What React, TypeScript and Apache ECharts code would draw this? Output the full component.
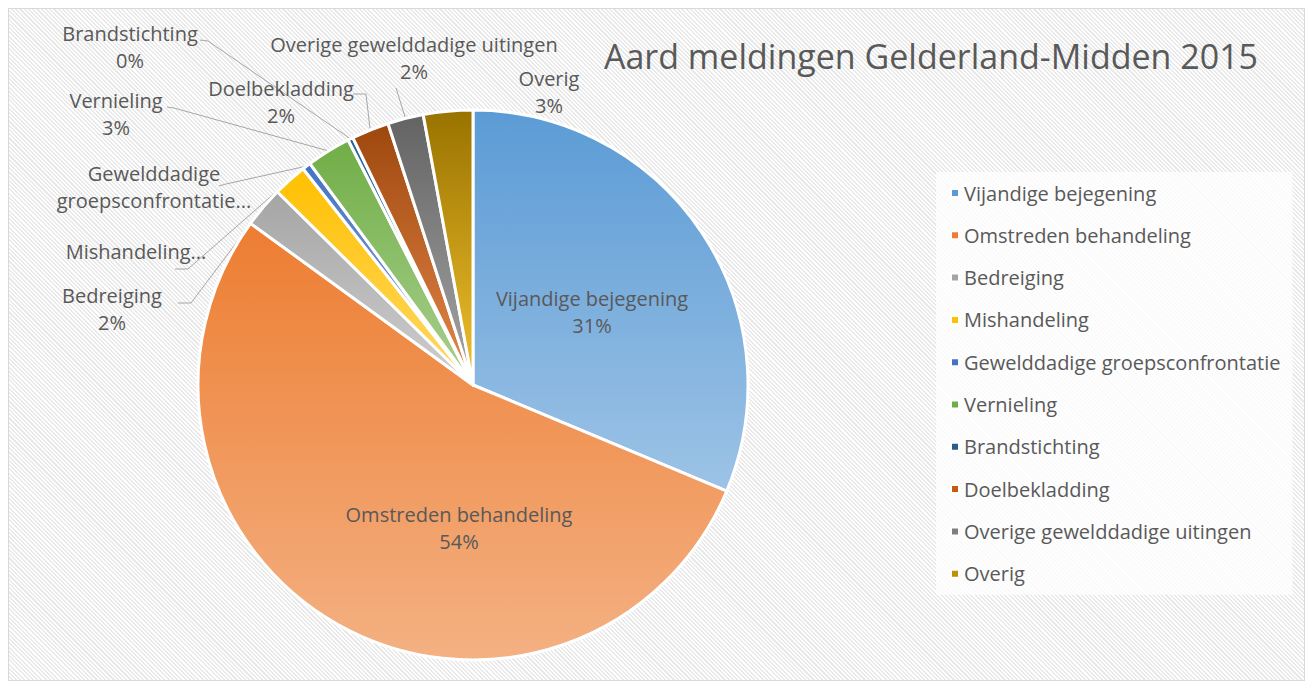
import React, { useEffect, useRef } from "react";
import * as echarts from "echarts";

const categories = [
  "Vijandige bejegening",
  "Omstreden behandeling",
  "Bedreiging",
  "Mishandeling",
  "Gewelddadige groepsconfrontatie",
  "Vernieling",
  "Brandstichting",
  "Doelbekladding",
  "Overige gewelddadige uitingen",
  "Overig",
];
const shares = [31.3, 53.7, 2.4, 2.0, 0.5, 2.6, 0.3, 2.2, 2.1, 2.9];
const titleText = "Aard meldingen Gelderland-Midden 2015";

const topColors = ["#5b9bd5", "#ed7d31", "#a5a5a5", "#ffc000", "#4472c4", "#70ad47", "#255e91", "#9e480e", "#636363", "#997300"];
const bottomColors = ["#9dc3e6", "#f4b183", "#cfcfcf", "#ffd966", "#8faadc", "#a9d18e", "#7fa6d4", "#e5874a", "#a6a6a6", "#f2c12e"];
const legendColors = ["#5b9bd5", "#ed7d31", "#a5a5a5", "#ffc000", "#4472c4", "#70ad47", "#255e91", "#c55a11", "#7f7f7f", "#bf9000"];

// label placement (chart pixel coords), style only
const spots: Record<number, { x: number; y: number; line?: number[][] }> = {
  0: { x: 583, y: 303 },
  1: { x: 450, y: 519 },
  2: { x: 103, y: 300, line: [[182, 294], [169, 294]] },
  3: { x: 127, y: 242, line: [[179, 260], [166, 260]] },
  4: { x: 145, y: 178, line: [[217, 175], [210, 177]] },
  5: { x: 107, y: 105, line: [[165, 99], [158, 98]] },
  6: { x: 121, y: 38, line: [[199, 32], [191, 31]] },
  7: { x: 272, y: 93, line: [[357, 85], [344, 85]] },
  8: { x: 405, y: 49, line: [[388, 82], [387, 79]] },
  9: { x: 540, y: 83 },
};

const FONT = "'Open Sans', 'Noto Sans', sans-serif";
const TEXT = "#595959";

export default function App() {
  const ref = useRef<HTMLDivElement>(null);
  useEffect(() => {
    if (!ref.current) return;
    const chart = echarts.init(ref.current, undefined, { renderer: "svg" });
    const data = categories.map((name, i) => ({
      name,
      value: shares[i],
      itemStyle: {
        color: new echarts.graphic.LinearGradient(0, 0, 0, 1, [
          { offset: 0, color: topColors[i] },
          { offset: 1, color: bottomColors[i] },
        ]),
      },
      label: { position: i < 2 ? "inside" : "outside" },
      labelLine: { show: i >= 2 && i !== 9 },
    }));
    chart.setOption({
      animation: false,
      backgroundColor: "transparent",
      title: {
        text: titleText,
        left: 917,
        top: 42,
        textAlign: "center",
        textVerticalAlign: "middle",
        textStyle: { fontFamily: FONT, fontSize: 34, fontWeight: "normal", color: TEXT },
      },
      legend: {
        orient: "vertical",
        left: 927,
        top: 163,
        data: categories.map((name, i) => ({ name, itemStyle: { color: legendColors[i] } })),
        icon: "rect",
        itemWidth: 8,
        itemHeight: 8,
        itemGap: 22.3,
        padding: [11, 12, 11, 14],
        backgroundColor: "rgba(255,255,255,0.75)",
        textStyle: { fontFamily: FONT, fontSize: 20, color: TEXT, lineHeight: 20 },
      },
      series: [
        {
          type: "pie",
          center: [464, 376],
          radius: [0, 275],
          startAngle: 90,
          clockwise: true,
          avoidLabelOverlap: false,
          data,
          itemStyle: { borderColor: "#ffffff", borderWidth: 3 },
          label: {
            fontFamily: FONT,
            fontSize: 20,
            lineHeight: 27,
            color: TEXT,
            align: "center",
            formatter: (p: any) => {
              const i = p.dataIndex;
              if (i === 3) return "Mishandeling...";
              if (i === 4) return "Gewelddadige\ngroepsconfrontatie...";
              return p.name + "\n" + Math.round(p.percent) + "%";
            },
          },
          labelLine: { lineStyle: { color: "#a6a6a6", width: 1 }, length: 10, length2: 10 },
          labelLayout: (params: any) => {
            const s = spots[params.dataIndex];
            if (!s) return {};
            const out: any = { x: s.x, y: s.y, align: "center", verticalAlign: "middle" };
            if (s.line && params.labelLinePoints) {
              out.labelLinePoints = [params.labelLinePoints[0], s.line[0], s.line[1]];
            }
            return out;
          },
        },
      ],
    });
    return () => chart.dispose();
  }, []);
  return (
    <div
      ref={ref}
      style={{
        width: 1297,
        height: 673,
        boxSizing: "border-box",
        border: "1px solid #d9d9d9",
        background:
          "repeating-linear-gradient(45deg, #ffffff 0px, #ffffff 1.5px, #e9e9e9 1.5px, #e9e9e9 3px)",
      }}
    />
  );
}
